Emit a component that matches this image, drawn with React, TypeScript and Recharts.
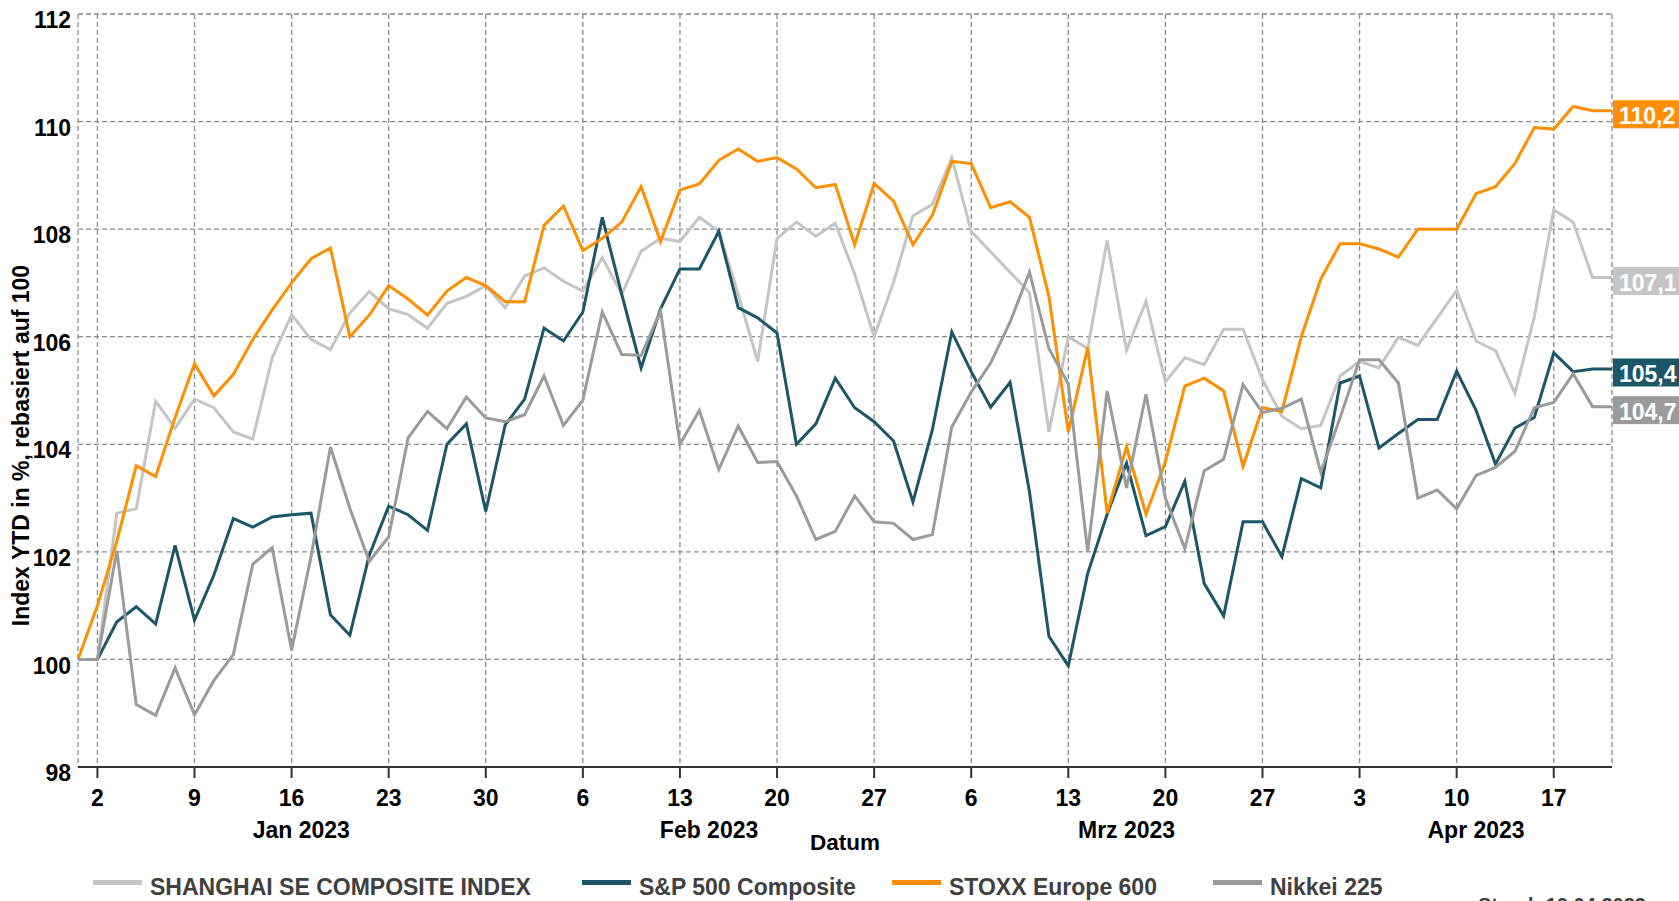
import React from 'react';
import { LineChart, Line, XAxis, YAxis, CartesianGrid, Legend } from 'recharts';

// Handelstage 30.12.2022 - 20.04.2023
const dates: string[] = [
    '2022-12-30',
    '2023-01-02', '2023-01-03', '2023-01-04', '2023-01-05', '2023-01-06',
    '2023-01-09', '2023-01-10', '2023-01-11', '2023-01-12', '2023-01-13',
    '2023-01-16', '2023-01-17', '2023-01-18', '2023-01-19', '2023-01-20',
    '2023-01-23', '2023-01-24', '2023-01-25', '2023-01-26', '2023-01-27',
    '2023-01-30', '2023-01-31', '2023-02-01', '2023-02-02', '2023-02-03',
    '2023-02-06', '2023-02-07', '2023-02-08', '2023-02-09', '2023-02-10',
    '2023-02-13', '2023-02-14', '2023-02-15', '2023-02-16', '2023-02-17',
    '2023-02-20', '2023-02-21', '2023-02-22', '2023-02-23', '2023-02-24',
    '2023-02-27', '2023-02-28', '2023-03-01', '2023-03-02', '2023-03-03',
    '2023-03-06', '2023-03-07', '2023-03-08', '2023-03-09', '2023-03-10',
    '2023-03-13', '2023-03-14', '2023-03-15', '2023-03-16', '2023-03-17',
    '2023-03-20', '2023-03-21', '2023-03-22', '2023-03-23', '2023-03-24',
    '2023-03-27', '2023-03-28', '2023-03-29', '2023-03-30', '2023-03-31',
    '2023-04-03', '2023-04-04', '2023-04-05', '2023-04-06', '2023-04-07',
    '2023-04-10', '2023-04-11', '2023-04-12', '2023-04-13', '2023-04-14',
    '2023-04-17', '2023-04-18', '2023-04-19', '2023-04-20',
];

const shanghai: number[] = [
    100, 100, 102.72, 102.8, 104.8, 104.3, 104.84, 104.68, 104.23, 104.1,
    105.61, 106.41, 105.95, 105.76, 106.44, 106.84, 106.52, 106.41, 106.16, 106.62,
    106.75, 106.95, 106.54, 107.13, 107.28, 107.03, 106.85, 107.47, 106.79, 107.59,
    107.83, 107.77, 108.22, 107.96, 106.79, 105.54, 107.83, 108.13, 107.87, 108.11,
    107.16, 106.0, 107.01, 108.25, 108.46, 109.33, 107.96, 107.58, 107.2, 106.82,
    104.23, 106.0, 105.78, 107.79, 105.75, 106.66, 105.16, 105.61, 105.48, 106.14,
    106.14, 105.2, 104.52, 104.29, 104.35, 105.27, 105.54, 105.42, 105.99, 105.84,
    106.35, 106.86, 105.92, 105.74, 104.95, 106.37, 108.36, 108.13, 107.1, 107.1,
];

const sp500: number[] = [
    100, 100, 100.7, 100.98, 100.66, 102.12, 100.73, 101.57, 102.62, 102.46,
    102.65, 102.69, 102.72, 100.83, 100.45, 101.94, 102.85, 102.69, 102.4, 104.0,
    104.38, 102.75, 104.36, 104.84, 106.16, 105.92, 106.46, 108.22, 106.79, 105.42,
    106.52, 107.26, 107.26, 107.96, 106.54, 106.35, 106.07, 104.0, 104.38, 105.23,
    104.68, 104.42, 104.06, 102.93, 104.27, 106.09, 105.35, 104.69, 105.15, 103.12,
    100.43, 99.88, 101.6, 102.7, 103.65, 102.3, 102.47, 103.31, 101.41, 100.81,
    102.56, 102.56, 101.91, 103.36, 103.19, 105.14, 105.27, 103.93, 104.2, 104.46,
    104.46, 105.36, 104.63, 103.63, 104.3, 104.5, 105.7, 105.35, 105.4, 105.4,
];

const stoxx600: number[] = [
    100, 101.0, 102.2, 103.6, 103.4, 104.5, 105.5, 104.9, 105.3, 105.95,
    106.5, 107.0, 107.45, 107.65, 106.0, 106.4, 106.95, 106.7, 106.4, 106.85,
    107.1, 106.95, 106.65, 106.65, 108.07, 108.43, 107.6, 107.83, 108.13, 108.79,
    107.77, 108.73, 108.84, 109.28, 109.49, 109.26, 109.33, 109.12, 108.77, 108.83,
    107.71, 108.85, 108.52, 107.71, 108.26, 109.26, 109.22, 108.4, 108.51, 108.22,
    106.75, 104.23, 105.8, 102.72, 103.95, 102.7, 103.68, 105.08, 105.23, 104.99,
    103.59, 104.68, 104.61, 106.0, 107.07, 107.73, 107.73, 107.63, 107.48, 108.0,
    108.0, 108.0, 108.66, 108.79, 109.22, 109.89, 109.86, 110.28, 110.2, 110.2,
];

const nikkei: number[] = [
    100, 100, 102.02, 99.16, 98.96, 99.84, 98.97, 99.61, 100.09, 101.77,
    102.08, 100.17, 101.91, 103.95, 102.81, 101.82, 102.28, 104.12, 104.61, 104.29,
    104.88, 104.49, 104.42, 104.55, 105.27, 104.35, 104.82, 106.46, 105.67, 105.65,
    106.48, 104.0, 104.63, 103.53, 104.34, 103.66, 103.68, 103.04, 102.23, 102.38,
    103.04, 102.56, 102.53, 102.23, 102.32, 104.32, 104.97, 105.51, 106.27, 107.2,
    105.78, 105.12, 102.0, 104.99, 103.19, 104.93, 103.0, 102.06, 103.51, 103.72,
    105.11, 104.59, 104.67, 104.84, 103.48, 104.5, 105.57, 105.57, 105.14, 103.0,
    103.15, 102.8, 103.42, 103.57, 103.87, 104.68, 104.78, 105.31, 104.7, 104.7,
];

// Montage als Ticks (Index in dates)
const weekTicks: number[] = [1, 6, 11, 16, 21, 26, 31, 36, 41, 46, 51, 56, 61, 66, 71, 76];
const monthTicks: number[] = [11.5, 32.5, 54, 72];
const monthLabels: string[] = ['Jan 2023', 'Feb 2023', 'Mrz 2023', 'Apr 2023'];
const yTicks: number[] = [98, 100, 102, 104, 106, 108, 110, 112];

const series = [
    { key: 'shanghai', name: 'SHANGHAI SE COMPOSITE INDEX', color: '#C5C5C5' },
    { key: 'sp500', name: 'S&P 500 Composite', color: '#1B5767' },
    { key: 'stoxx600', name: 'STOXX Europe 600', color: '#FF8F00' },
    { key: 'nikkei', name: 'Nikkei 225', color: '#9B9B9B' },
];

const data = dates.map((d, i) => ({
    i,
    date: d,
    shanghai: shanghai[i],
    sp500: sp500[i],
    stoxx600: stoxx600[i],
    nikkei: nikkei[i],
}));

const lastIndex = dates.length - 1;
const FONT = '"Liberation Sans", Arial, sans-serif';
const legendX = [93, 582, 892, 1213];

const fmt = (v: number) => v.toFixed(1).replace('.', ',');

const endLabel = (color: string) => (props: any) => {
    const index = props.index;
    if (index !== lastIndex) return null;
    const x = props.x ?? props.viewBox?.x;
    const y = props.y ?? props.viewBox?.y;
    if (x == null || y == null) return null;
    return (
        <g>
            <rect x={x + 1} y={y - 10.5} width={80} height={28} fill={color} />
            <text x={x + 7} y={y + 13.5} fill="#ffffff" fontSize={23} fontWeight="bold" fontFamily={FONT}>
                {fmt(Number(props.value))}
            </text>
        </g>
    );
};

const LegendContent = () => (
    <div style={{ position: 'relative', width: 1679, height: 28, fontFamily: FONT }}>
        {series.map((s, i) => (
            <div key={s.key} style={{ position: 'absolute', left: legendX[i], top: 0, height: 28 }}>
                <div style={{ position: 'absolute', left: 0, top: 6, width: 49, height: 5, background: s.color }} />
                <span
                    style={{
                        position: 'absolute',
                        left: 57,
                        top: 0,
                        whiteSpace: 'nowrap',
                        fontSize: 23,
                        lineHeight: '26px',
                        fontWeight: 'bold',
                        color: '#404040',
                    }}
                >
                    {s.name}
                </span>
            </div>
        ))}
    </div>
);

const App: React.FC = () => {
    return (
        <div
            style={{
                position: 'absolute',
                left: 0,
                top: 0,
                width: 1679,
                height: 901,
                overflow: 'hidden',
                background: '#ffffff',
                fontFamily: FONT,
            }}
        >
            <LineChart
                width={1679}
                height={901}
                data={data}
                margin={{ top: 14, right: 67, left: 0, bottom: 47 }}
                style={{ fontFamily: FONT }}
            >
                <CartesianGrid stroke="#8c8c8c" strokeDasharray="5 3" strokeWidth={1.3} />
                <XAxis
                    dataKey="i"
                    type="number"
                    domain={[0, lastIndex]}
                    ticks={weekTicks}
                    interval={0}
                    height={40}
                    tickSize={11}
                    tickMargin={12}
                    axisLine={{ stroke: '#333333', strokeWidth: 2 }}
                    tickLine={{ stroke: '#333333', strokeWidth: 2 }}
                    tick={{ fill: '#000000', fontSize: 23, fontWeight: 'bold' }}
                    tickFormatter={(v: number) => String(Number(dates[v].slice(8)))}
                />
                <XAxis
                    xAxisId="month"
                    dataKey="i"
                    type="number"
                    domain={[0, lastIndex]}
                    ticks={monthTicks}
                    interval={0}
                    height={47}
                    tickSize={0}
                    tickMargin={15}
                    axisLine={false}
                    tickLine={false}
                    tick={{ fill: '#000000', fontSize: 23, fontWeight: 'bold' }}
                    tickFormatter={(v: number, idx: number) => monthLabels[idx] ?? ''}
                    label={{
                        value: 'Datum',
                        position: 'insideBottom',
                        offset: 4,
                        fill: '#000000',
                        fontSize: 22.5,
                        fontWeight: 'bold',
                    }}
                />
                <YAxis
                    domain={[98, 112]}
                    ticks={yTicks}
                    interval={0}
                    width={78}
                    axisLine={false}
                    tickLine={false}
                    tickSize={0}
                    tickMargin={7}
                    tick={{ fill: '#000000', fontSize: 23, fontWeight: 'bold', dy: 6 }}
                    label={{
                        value: 'Index YTD in %, rebasiert auf 100',
                        angle: -90,
                        position: 'insideLeft',
                        content: () => (
                            <text
                                x={28.5}
                                y={445.5}
                                transform="rotate(-90 28.5 445.5)"
                                textAnchor="middle"
                                fontSize={23}
                                fontWeight="bold"
                                fill="#000000"
                                fontFamily={FONT}
                            >
                                Index YTD in %, rebasiert auf 100
                            </text>
                        ),
                    }}
                />
                <Legend
                    layout="horizontal"
                    verticalAlign="middle"
                    align="center"
                    content={<LegendContent />}
                    wrapperStyle={{ top: 874, left: 0, width: 1679 }}
                />
                {series.map((s) => (
                    <Line
                        key={s.key}
                        type="linear"
                        dataKey={s.key}
                        name={s.name}
                        stroke={s.color}
                        strokeWidth={3}
                        dot={false}
                        activeDot={false}
                        isAnimationActive={false}
                        label={endLabel(s.color)}
                    />
                ))}
            </LineChart>
            <div
                style={{
                    position: 'absolute',
                    left: 1478,
                    top: 894,
                    fontSize: 20,
                    fontWeight: 'bold',
                    color: '#404040',
                    whiteSpace: 'nowrap',
                }}
            >
                Stand: 19.04.2023
            </div>
        </div>
    );
};

export default App;
